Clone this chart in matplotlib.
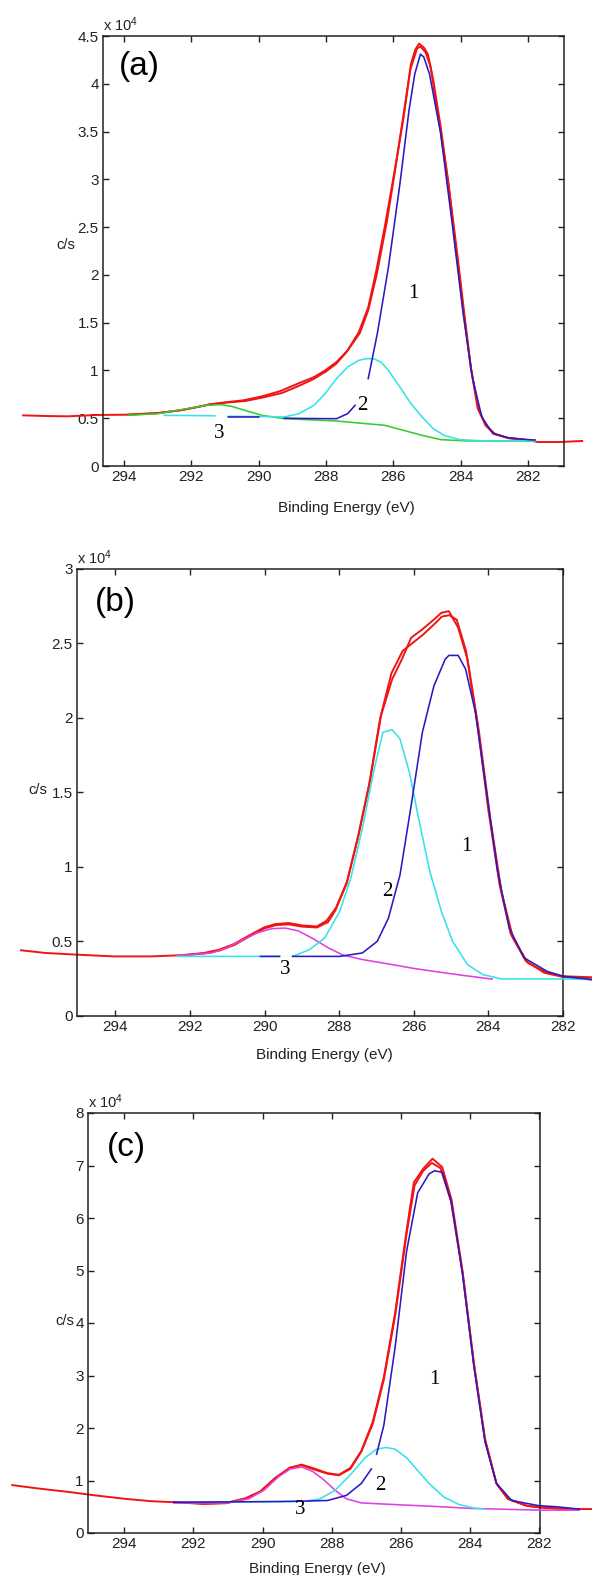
import matplotlib
matplotlib.use("Agg")
import matplotlib.pyplot as plt
from matplotlib.ticker import FuncFormatter

nan = float("nan")

# ---- panel (a), intensities in units of 1e4 c/s ----
a_raw_x = [296.99, 296.32, 295.66, 294.77, 293.89, 293.0, 292.34, 291.9, 291.46, 291.0, 290.46,
           289.9, 289.35, 288.8, 288.36, 288.03, 287.69, 287.36, 287.03, 286.75, 286.53, 286.26,
           285.98, 285.7, 285.48, 285.35, 285.24, 285.1, 284.98, 284.82, 284.6, 284.38, 284.15,
           283.93, 283.71, 283.49, 283.27, 282.99, 282.6, 282.0, 281.72, 281.06, 280.4]
a_raw_y = [0.53, 0.523, 0.52, 0.534, 0.537, 0.555, 0.582, 0.61, 0.645, 0.666, 0.687,
           0.729, 0.785, 0.868, 0.93, 1.0, 1.088, 1.21, 1.4, 1.66, 2.01, 2.5,
           3.06, 3.65, 4.21, 4.36, 4.42, 4.38, 4.31, 4.04, 3.55, 2.99, 2.29,
           1.63, 1.04, 0.617, 0.426, 0.338, 0.293, 0.269, 0.251, 0.251, 0.262]
a_fit_x = [293.9, 293.0, 292.3, 291.5, 291.0, 290.4, 289.9, 289.3, 288.8, 288.4, 288.0, 287.7,
           287.4, 287.0, 286.75, 286.5, 286.2, 285.95, 285.7, 285.5, 285.3, 285.2, 285.05,
           284.9, 284.6, 284.35, 284.1, 283.9, 283.7, 283.5, 283.25, 283.0, 282.6, 282.0, 281.8]
a_fit_y = [0.537, 0.552, 0.585, 0.64, 0.662, 0.68, 0.715, 0.765, 0.84, 0.905, 0.99, 1.07,
           1.19, 1.39, 1.63, 2.0, 2.55, 3.1, 3.68, 4.15, 4.37, 4.39, 4.33,
           4.18, 3.5, 2.9, 2.2, 1.6, 1.02, 0.6, 0.42, 0.335, 0.292, 0.27, 0.265]
a_c1_x = [290.9, 290.0, nan, 289.24, 288.5, 287.69, 287.36, 287.14, nan,
          286.75, 286.48, 286.15, 285.81, 285.54, 285.37, 285.2, 285.1, 284.93, 284.6, 284.27,
          283.93, 283.66, 283.38, 283.05, 282.6, 282.0, 281.8]
a_c1_y = [0.513, 0.513, nan, 0.50, 0.497, 0.495, 0.548, 0.635, nan,
          0.914, 1.385, 2.08, 2.95, 3.72, 4.1, 4.31, 4.28, 4.1, 3.48, 2.57,
          1.59, 0.93, 0.513, 0.338, 0.296, 0.276, 0.272]
a_c2_x = [292.8, 292.0, 291.3, nan, 290.9, 290.0, 289.24, 288.8, 288.36, 288.03, 287.69,
          287.36, 287.03, 286.81, 286.59, 286.37, 286.15, 285.81, 285.48, 285.15, 284.82,
          284.49, 284.04, 283.27, 282.0, 281.8]
a_c2_y = [0.53, 0.528, 0.525, nan, 0.52, 0.518, 0.513, 0.548, 0.635, 0.757, 0.914,
          1.036, 1.106, 1.123, 1.123, 1.088, 1.0, 0.827, 0.652, 0.513, 0.39,
          0.32, 0.276, 0.262, 0.262, 0.262]
a_c3_x = [293.89, 293.0, 292.12, 291.57, 291.12, 290.8, 290.35, 289.9, 289.24, 288.58, 287.69,
          286.81, 286.26, 285.7, 285.15, 284.6, 283.82, 282.0, 281.8]
a_c3_y = [0.53, 0.548, 0.6, 0.635, 0.642, 0.624, 0.576, 0.53, 0.495, 0.485, 0.471,
          0.443, 0.426, 0.373, 0.321, 0.276, 0.262, 0.262, 0.262]

# ---- panel (b) ----
b_raw_x = [296.53, 295.87, 295.06, 294.05, 293.04, 292.23, 291.63, 291.22, 290.82, 290.41, 290.01,
           289.71, 289.35, 289.0, 288.6, 288.34, 288.09, 287.79, 287.48, 287.18, 286.88, 286.58,
           286.32, 286.07, 285.77, 285.46, 285.26, 285.06, 284.81, 284.56, 284.25, 283.95, 283.65,
           283.34, 282.94, 282.43, 282.0, 281.24]
b_raw_y = [0.441, 0.423, 0.412, 0.40, 0.40, 0.408, 0.423, 0.445, 0.483, 0.541, 0.595,
           0.617, 0.624, 0.608, 0.601, 0.639, 0.724, 0.902, 1.214, 1.57, 2.016, 2.26,
           2.394, 2.539, 2.595, 2.661, 2.706, 2.717, 2.606, 2.394, 1.904, 1.325, 0.835,
           0.523, 0.356, 0.29, 0.267, 0.26]
b_fit_x = [292.3, 291.6, 291.2, 290.8, 290.4, 290.0, 289.7, 289.35, 289.0, 288.6, 288.3, 288.1,
           287.8, 287.5, 287.2, 286.9, 286.6, 286.3, 286.05, 285.75, 285.45, 285.25, 285.05,
           284.85, 284.6, 284.3, 284.0, 283.7, 283.4, 283.0, 282.5, 282.0, 281.24]
b_fit_y = [0.405, 0.42, 0.44, 0.478, 0.535, 0.588, 0.61, 0.615, 0.6, 0.594, 0.63, 0.71,
           0.89, 1.2, 1.55, 2.0, 2.3, 2.45, 2.5, 2.56, 2.63, 2.68, 2.69,
           2.66, 2.45, 1.97, 1.38, 0.88, 0.55, 0.37, 0.29, 0.262, 0.245]
b_c1_x = [290.11, 289.6, nan, 289.25, 288.5, 287.99, 287.38, 286.98, 286.68, 286.37, 286.07,
          285.77, 285.46, 285.16, 285.06, 284.81, 284.61, 284.35, 284.05, 283.75, 283.44,
          283.04, 282.43, 282.0, 281.24]
b_c1_y = [0.40, 0.40, nan, 0.40, 0.40, 0.40, 0.423, 0.501, 0.657, 0.947, 1.414,
          1.904, 2.216, 2.394, 2.42, 2.42, 2.327, 2.04, 1.503, 0.969, 0.59,
          0.39, 0.30, 0.267, 0.245]
b_c2_x = [292.33, 291.0, 289.6, nan, 289.25, 288.8, 288.39, 287.99, 287.69, 287.38, 287.08,
          286.83, 286.58, 286.37, 286.12, 285.87, 285.57, 285.26, 284.96, 284.56, 284.15,
          283.65, 282.0, 281.24]
b_c2_y = [0.40, 0.40, 0.40, nan, 0.40, 0.445, 0.523, 0.70, 0.924, 1.258, 1.637,
          1.904, 1.922, 1.86, 1.637, 1.325, 0.969, 0.702, 0.501, 0.345, 0.278,
          0.249, 0.249, 0.245]
b_c3_x = [292.33, 291.42, 291.02, 290.62, 290.21, 289.81, 289.45, 289.1, 288.7, 288.29, 287.89,
          287.38, 286.58, 285.97, 285.36, 284.66, 283.95, 283.9]
b_c3_y = [0.405, 0.423, 0.457, 0.506, 0.557, 0.586, 0.59, 0.572, 0.519, 0.457, 0.408,
          0.379, 0.345, 0.318, 0.296, 0.272, 0.249, 0.249]

# ---- panel (c) ----
c_raw_x = [297.24, 296.48, 295.61, 294.85, 293.98, 293.22, 292.57, 291.7, 291.05, 290.5, 290.07,
           289.63, 289.2, 288.87, 288.55, 288.12, 287.79, 287.46, 287.14, 286.81, 286.49, 286.16,
           285.83, 285.62, 285.35, 285.08, 284.8, 284.53, 284.21, 283.88, 283.56, 283.23, 282.9,
           282.36, 282.0, 281.27, 280.45]
c_raw_y = [0.912, 0.847, 0.782, 0.717, 0.651, 0.606, 0.586, 0.554, 0.567, 0.651, 0.782,
           1.042, 1.238, 1.303, 1.238, 1.14, 1.108, 1.238, 1.563, 2.117, 2.964, 4.2,
           5.765, 6.678, 6.938, 7.13, 6.97, 6.35, 4.98, 3.22, 1.79, 0.945, 0.651,
           0.52, 0.489, 0.456, 0.456]
c_fit_x = [292.57, 291.7, 291.05, 290.5, 290.07, 289.63, 289.2, 288.87, 288.55, 288.12, 287.79,
           287.46, 287.14, 286.81, 286.49, 286.16, 285.83, 285.6, 285.35, 285.1, 284.85, 284.55,
           284.21, 283.88, 283.56, 283.23, 282.9, 282.36, 282.0, 281.27, 280.84]
c_fit_y = [0.59, 0.56, 0.575, 0.66, 0.79, 1.05, 1.25, 1.29, 1.22, 1.13, 1.10,
           1.22, 1.55, 2.08, 2.92, 4.15, 5.7, 6.62, 6.9, 7.05, 6.95, 6.33,
           4.95, 3.2, 1.77, 0.94, 0.65, 0.52, 0.49, 0.46, 0.45]
c_c1_x = [292.57, 291.5, 290.5, 289.5, 288.87, 288.12, 287.57, 287.14, 286.85, nan, 286.7,
          286.49, 286.16, 285.83, 285.51, 285.18, 285.02, 284.8, 284.53, 284.21, 283.88,
          283.56, 283.23, 282.79, 282.0, 281.49, 280.84]
c_c1_y = [0.586, 0.59, 0.595, 0.60, 0.606, 0.619, 0.717, 0.945, 1.22, nan, 1.5,
          2.05, 3.55, 5.37, 6.48, 6.84, 6.9, 6.87, 6.29, 4.92, 3.16,
          1.73, 0.945, 0.619, 0.52, 0.50, 0.456]
c_c2_x = [292.46, 291.0, 289.9, 289.0, nan, 288.71, 288.33, 287.9, 287.46, 287.03, 286.7,
          286.43, 286.16, 285.83, 285.51, 285.18, 284.75, 284.31, 283.88, 283.6]
c_c2_y = [0.59, 0.592, 0.595, 0.60, nan, 0.61, 0.651, 0.814, 1.108, 1.433, 1.596,
          1.629, 1.596, 1.433, 1.19, 0.945, 0.684, 0.541, 0.476, 0.456]
c_c3_x = [292.57, 291.05, 290.4, 289.96, 289.53, 289.2, 288.87, 288.55, 288.22, 287.9, 287.57,
          287.14, 286.16, 285.08, 283.99, 282.0, 280.84]
c_c3_y = [0.573, 0.573, 0.651, 0.814, 1.075, 1.218, 1.257, 1.173, 1.01, 0.814, 0.651,
          0.573, 0.541, 0.508, 0.469, 0.436, 0.436]

# peak labels (x, y) per panel
a_labels = [("1", 285.4, 1.80), ("2", 286.92, 0.635), ("3", 291.16, 0.34)]
b_labels = [("1", 284.6, 1.136), ("2", 286.7, 0.835), ("3", 289.45, 0.31)]
c_labels = [("1", 285.02, 2.93), ("2", 286.6, 0.91), ("3", 288.9, 0.456)]

x_ticks = [294, 292, 290, 288, 286, 284, 282]

RED = "#f01414"
BLUE = "#2a1ac0"
CYAN = "#35e3e8"
GREEN = "#35cc30"
MAGENTA = "#e040e0"

plt.rcParams["font.family"] = ["Liberation Sans", "DejaVu Sans"]
plt.rcParams["mathtext.default"] = "regular"

W, H = 592, 1575
fig = plt.figure(figsize=(W / 100, H / 100), dpi=100)


def make_axes(left, top, right, bottom):
    return fig.add_axes([left / W, 1 - bottom / H, (right - left) / W, (bottom - top) / H])


panels = [
    dict(box=(103, 36, 564, 466), xlim=(294.62, 280.94), ymax=4.5, ystep=0.5, tag="(a)",
         tagpos=(0.035, 0.928), xl=(0.527, -0.098), cs=(-0.08, 0.514),
         raw=(a_raw_x, a_raw_y), fit=(a_fit_x, a_fit_y),
         comps=[(a_c3_x, a_c3_y, GREEN), (a_c2_x, a_c2_y, CYAN), (a_c1_x, a_c1_y, BLUE)],
         labels=a_labels),
    dict(box=(77, 569, 563, 1016), xlim=(295.03, 282.0), ymax=3.0, ystep=0.5, tag="(b)",
         tagpos=(0.037, 0.924), xl=(0.508, -0.087), cs=(-0.08, 0.506),
         raw=(b_raw_x, b_raw_y), fit=(b_fit_x, b_fit_y),
         comps=[(b_c3_x, b_c3_y, MAGENTA), (b_c2_x, b_c2_y, CYAN), (b_c1_x, b_c1_y, BLUE)],
         labels=b_labels),
    dict(box=(88, 1113, 540, 1533), xlim=(295.05, 281.97), ymax=8.0, ystep=1.0, tag="(c)",
         tagpos=(0.041, 0.917), xl=(0.508, -0.086), cs=(-0.051, 0.505),
         raw=(c_raw_x, c_raw_y), fit=(c_fit_x, c_fit_y),
         comps=[(c_c3_x, c_c3_y, MAGENTA), (c_c2_x, c_c2_y, CYAN), (c_c1_x, c_c1_y, BLUE)],
         labels=c_labels),
]

for p in panels:
    ax = make_axes(*p["box"])
    ax.plot(*p["raw"], color=RED, lw=1.4, clip_on=False, zorder=2)
    ax.plot(*p["fit"], color=RED, lw=1.4, clip_on=False, zorder=2)
    for xs, ys, col in p["comps"]:
        ax.plot(xs, ys, color=col, lw=1.15, clip_on=False, zorder=3)
    for txt, lx, ly in p["labels"]:
        ax.text(lx, ly, txt, family="Liberation Serif", fontsize=15, ha="center", va="center")

    ax.set_xlim(*p["xlim"])
    ax.set_ylim(0, p["ymax"])
    ax.set_xticks(x_ticks)
    n = int(round(p["ymax"] / p["ystep"]))
    ax.set_yticks([i * p["ystep"] for i in range(n + 1)])
    ax.yaxis.set_major_formatter(FuncFormatter(lambda v, pos: "%g" % v))
    ax.tick_params(direction="in", length=4, width=1.0, top=True, right=True,
                   labelsize=11, pad=3, colors="#222222")
    for s in ax.spines.values():
        s.set_linewidth(1.1)
        s.set_color("#222222")

    ax.text(0.0, 1.004, r"x 10$^4$", transform=ax.transAxes, fontsize=10.5,
            ha="left", va="bottom", color="#222222")
    ax.text(*p["tagpos"], p["tag"], transform=ax.transAxes, fontsize=24,
            ha="left", va="center")
    ax.text(*p["cs"], "c/s", transform=ax.transAxes, fontsize=10.5,
            ha="center", va="center", color="#222222")
    ax.set_xlabel("Binding Energy (eV)", fontsize=11, color="#222222")
    ax.xaxis.set_label_coords(*p["xl"])
    ax.xaxis.label.set_va("center")

fig.savefig("out.png", dpi=100)
